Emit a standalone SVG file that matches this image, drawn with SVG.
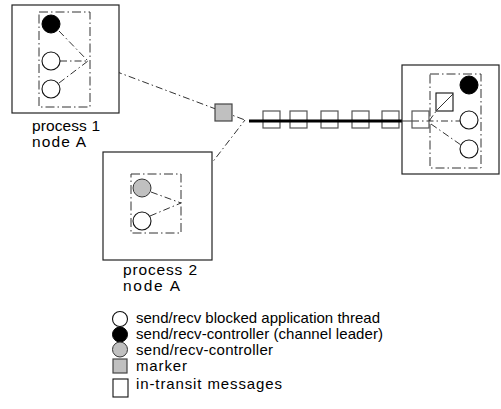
<svg xmlns="http://www.w3.org/2000/svg" width="501" height="409" viewBox="0 0 501 409">
<style>
.box{fill:#fff;stroke:#222;stroke-width:1.2}
.grp{fill:none;stroke:#333;stroke-width:1;stroke-dasharray:9 3 1.5 3}
.dd{fill:none;stroke:#333;stroke-width:1;stroke-dasharray:7 3 1.5 3}
.th{fill:#fff;stroke:#111;stroke-width:1.1}
.ctl{fill:#000;stroke:#000;stroke-width:1}
.gry{fill:#c0c0c0;stroke:#333;stroke-width:1}
.msg{fill:#fff;stroke:#555;stroke-width:1.2}
.mk{fill:#c0c0c0;stroke:#444;stroke-width:1.2}
text{font-family:"Liberation Sans",Arial,sans-serif;font-size:15px;fill:#000}
.lbl{font-size:15.5px}
</style>
<g id="connectors">
<polyline class="dd" points="88,61 245,120"/>
<polyline class="dd" points="181,203 245,120"/>
</g>
<g id="process1">
<rect class="box" x="12" y="5" width="107" height="108"/>
<rect class="grp" x="39" y="12" width="51" height="95"/>
<line class="dd" x1="59" y1="31" x2="88" y2="61"/>
<line class="dd" x1="60" y1="61" x2="88" y2="61"/>
<line class="dd" x1="59" y1="83" x2="88" y2="61"/>
<circle class="ctl" cx="51" cy="24" r="9"/>
<circle class="th" cx="51" cy="61" r="9"/>
<circle class="th" cx="51" cy="89" r="9"/>
<text class="lbl" x="32" y="131" textLength="68" lengthAdjust="spacing">process 1</text>
<text class="lbl" x="32" y="147" textLength="54" lengthAdjust="spacing">node  A</text>
</g>
<g id="process2">
<rect class="box" x="103" y="152" width="109" height="108"/>
<rect class="grp" x="131" y="174" width="50" height="59"/>
<line class="dd" x1="151" y1="192" x2="181" y2="203"/>
<line class="dd" x1="150" y1="216" x2="181" y2="203"/>
<circle class="gry" cx="142" cy="188" r="9"/>
<circle class="th" cx="142" cy="221" r="9"/>
<text class="lbl" x="123" y="275" textLength="74" lengthAdjust="spacing">process 2</text>
<text class="lbl" x="123" y="291" textLength="57" lengthAdjust="spacing">node A</text>
</g>
<g id="marker">
<rect class="mk" x="215" y="104" width="17" height="17"/>
</g>
<g id="channel">
<rect class="msg" x="263" y="111" width="17" height="17"/>
<rect class="msg" x="290" y="111" width="17" height="17"/>
<rect class="msg" x="321" y="111" width="17" height="17"/>
<rect class="msg" x="352" y="111" width="17" height="17"/>
<rect class="msg" x="382" y="111" width="17" height="17"/>
<line x1="249" y1="121" x2="402" y2="121" stroke="#000" stroke-width="3"/>
</g>
<g id="process3">
<rect class="box" x="402" y="65" width="97" height="109"/>
<rect class="grp" x="430" y="74" width="51" height="94"/>
<line x1="402" y1="121" x2="412" y2="121" stroke="#333" stroke-width="1"/>
<line class="dd" x1="412" y1="121" x2="460" y2="121"/>
<rect class="msg" x="412" y="111" width="17" height="17" style="fill:none"/>
<line class="dd" x1="431" y1="124" x2="461" y2="145"/>
<rect class="th" x="436" y="93" width="17" height="18"/>
<line x1="437" y1="110" x2="453" y2="94" stroke="#333" stroke-width="1"/>
<line class="dd" x1="429" y1="121" x2="437" y2="110"/>
<circle class="ctl" cx="469" cy="85" r="9"/>
<circle class="th" cx="469" cy="120" r="9"/>
<circle class="th" cx="469" cy="149" r="9"/>
</g>
<g id="legend">
<circle class="th" cx="120" cy="319" r="7.5"/>
<circle class="ctl" cx="120" cy="334.5" r="7.5"/>
<circle class="gry" cx="120" cy="349.5" r="7.5"/>
<rect class="mk" x="113" y="359" width="14" height="14"/>
<rect class="th" x="113" y="379" width="15" height="18"/>
<text x="136" y="323" textLength="244" lengthAdjust="spacing">send/recv blocked application thread</text>
<text x="136" y="339" textLength="247" lengthAdjust="spacing">send/recv-controller (channel leader)</text>
<text x="136" y="355" textLength="137" lengthAdjust="spacing">send/recv-controller</text>
<text x="136" y="371" textLength="51" lengthAdjust="spacing">marker</text>
<text x="136" y="389" textLength="146" lengthAdjust="spacing">in-transit messages</text>
</g>
</svg>
